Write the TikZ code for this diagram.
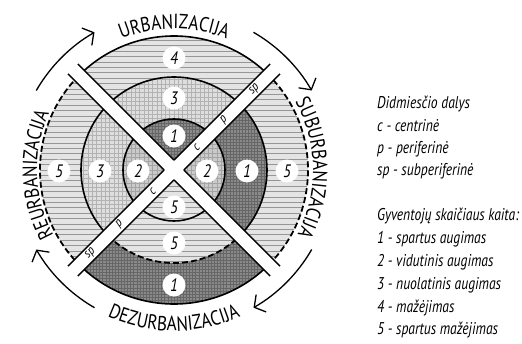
\documentclass[tikz,border=0pt]{standalone}
\usepackage{fontspec}
\setmainfont{PT Sans}
\newfontfamily\condsans[FakeStretch=0.84]{PT Sans}
\newfontfamily\legsans[FakeStretch=0.8]{PT Sans}
\usetikzlibrary{arrows.meta,decorations.text}

\definecolor{darkbg}{HTML}{8A8A8A}
\definecolor{darkln}{HTML}{666666}
\definecolor{lightbg}{HTML}{DEDEDE}
\definecolor{lightln}{HTML}{B2B2B2}
\definecolor{midbg}{HTML}{CACACA}
\definecolor{midln}{HTML}{A4A4A4}
\definecolor{hatchbg}{HTML}{E4E4E4}
\definecolor{hatchln}{HTML}{969696}

% clip to the part of a ring between two angles and two radii
\newcommand\ringclip[4]{\clip (#1:#3) arc[start angle=#1,end angle=#2,radius=#3] -- (#2:#4) arc[start angle=#2,end angle=#1,radius=#4] -- cycle;}

% ring sector filled with horizontal lines
\newcommand\hatchring[4]{%
  \begin{scope}
    \ringclip{#1}{#2}{#3}{#4}
    \fill[hatchbg] (-140,-140) rectangle (140,140);
    \foreach \k in {-26,...,26}
      \draw[hatchln,line width=0.75pt] (-140,\k*5.4) -- (140,\k*5.4);
  \end{scope}}

% ring sector filled with a square grid: angles, radii, fill, line colour, spacing
\newcommand\gridring[7]{%
  \begin{scope}
    \ringclip{#1}{#2}{#3}{#4}
    \fill[#5] (-140,-140) rectangle (140,140);
    \foreach \k in {-46,...,46} {
      \draw[#6,line width=0.45pt] (-140,\k*#7) -- (140,\k*#7);
      \draw[#6,line width=0.45pt] (\k*#7,-140) -- (\k*#7,140);
    }
  \end{scope}}

\newcommand\bigcaps{\condsans\fontsize{20.5}{20.5}\selectfont}
\newcommand\numfont{\condsans\itshape\fontsize{18}{18}\selectfont}
\newcommand\legfont{\legsans\itshape\fontsize{17}{17}\selectfont}
\newcommand\bandfont{\condsans\itshape\fontsize{13}{13}\selectfont}

\begin{document}
\begin{tikzpicture}[x=1pt,y=1pt,
  numlabel/.style={circle,fill=white,inner sep=0pt,minimum size=23pt,font=\numfont},
  bandlabel/.style={inner sep=0pt,font=\bandfont,rotate=45},
  legline/.style={anchor=base west,inner sep=0pt,font=\legfont},
  ringline/.style={line width=1.6pt},
  ringdash/.style={line width=1.8pt,dash pattern=on 6pt off 3pt},
  bandedge/.style={line width=1.5pt},
  cyclearrow/.style={line width=1.3pt,-{Straight Barb[length=8pt,width=20pt,line width=1.3pt]}},
  curvedtext/.style={decorate,decoration={text along path,text align=center,text={|\bigcaps|#1}}}]

\useasboundingbox (-174,-173) rectangle (348,170);

\def\rIn{51}
\def\rMid{93}
\def\rOut{134}

% top sector: urbanization
\gridring{45}{135}{1}{\rIn}{darkbg}{darkln}{3.1}
\gridring{45}{135}{\rIn}{\rMid}{lightbg}{lightln}{4.3}
\hatchring{45}{135}{\rMid}{\rOut}
% right sector: suburbanization
\gridring{-45}{45}{1}{\rIn}{midbg}{midln}{4.3}
\gridring{-45}{45}{\rIn}{\rMid}{darkbg}{darkln}{3.1}
\hatchring{-45}{45}{\rMid}{\rOut}
% bottom sector: desurbanization
\hatchring{225}{315}{1}{\rIn}
\hatchring{225}{315}{\rIn}{\rMid}
\gridring{225}{315}{\rMid}{\rOut}{darkbg}{darkln}{3.1}
% left sector: reurbanization
\gridring{135}{225}{1}{\rIn}{midbg}{midln}{4.3}
\gridring{135}{225}{\rIn}{\rMid}{lightbg}{lightln}{4.3}
\hatchring{135}{225}{\rMid}{\rOut}

% ring borders
\draw[ringline] (0,0) circle[radius=\rIn];
\draw[ringline] (225:\rMid) arc[start angle=225,end angle=-45,radius=\rMid];
\draw[ringdash] (225:\rMid) arc[start angle=225,end angle=315,radius=\rMid];
\draw[ringline] (45:\rOut) arc[start angle=45,end angle=135,radius=\rOut];
\draw[ringline] (225:\rOut) arc[start angle=225,end angle=315,radius=\rOut];
\draw[ringdash] (-45:\rOut) arc[start angle=-45,end angle=45,radius=\rOut];
\draw[ringdash] (135:\rOut) arc[start angle=135,end angle=225,radius=\rOut];

% the two crossing white bands
\begin{scope}[rotate=45]
  \fill[white] (-143,-7) rectangle (143,7);
  \fill[white] (-7,-143) rectangle (7,143);
  \draw[bandedge] (7,7) -- (143,7)  (7,-7) -- (143,-7);
  \draw[bandedge] (-7,7) -- (-143,7)  (-7,-7) -- (-143,-7);
  \draw[bandedge] (7,7) -- (7,143)  (-7,7) -- (-7,143);
  \draw[bandedge] (7,-7) -- (7,-143)  (-7,-7) -- (-7,-143);
\end{scope}

% parts of the city along the band
\node[bandlabel] (cNE) at (45:32) {c};
\node[bandlabel] (pNE) at (45:71) {p};
\node[bandlabel] (spNE) at (45:114) {sp};
\node[bandlabel] (cSW) at (225:30) {c};
\node[bandlabel] (pSW) at (225:77) {p};
\node[bandlabel] (spSW) at (225:118) {sp};

% population change codes
\node[numlabel] (t4) at (0,112) {4};
\node[numlabel] (t3) at (0,72) {3};
\node[numlabel] (t1) at (0,34) {1};
\node[numlabel] (l5) at (-115,-1) {5};
\node[numlabel] (l3) at (-74,-1) {3};
\node[numlabel] (l2) at (-36,-1) {2};
\node[numlabel] (r2) at (33,-1) {2};
\node[numlabel] (r1) at (73,-1) {1};
\node[numlabel] (r5) at (113,-1) {5};
\node[numlabel] (b5a) at (0,-37) {5};
\node[numlabel] (b5b) at (0,-73) {5};
\node[numlabel] (b1) at (0,-115) {1};

% stage names along the circle
\path[curvedtext=URBANIZACIJA] (135:141) arc[start angle=135,end angle=45,radius=141];
\path[curvedtext=SUBURBANIZACIJA] (41:139) arc[start angle=41,end angle=-39,radius=139];
\path[curvedtext=DEZURBANIZACIJA] (230:161) arc[start angle=230,end angle=310,radius=161];
\path[curvedtext=REURBANIZACIJA] (222:137) arc[start angle=222,end angle=142,radius=137];

% cycle arrows
\coordinate (arrA) at (150:159);
\coordinate (arrB) at (60:159);
\coordinate (arrC) at (-30:159);
\coordinate (arrD) at (-120:159);
\draw[cyclearrow] (arrA) arc[start angle=150,end angle=120,radius=159];
\draw[cyclearrow] (arrB) arc[start angle=60,end angle=30,radius=159];
\draw[cyclearrow] (arrC) arc[start angle=-30,end angle=-60,radius=159];
\draw[cyclearrow] (arrD) arc[start angle=-120,end angle=-150,radius=159];

% legend
\node[legline] (lg1) at (203,62) {Didmiesčio dalys};
\node[legline] (lg2) at (203,39) {c - centrinė};
\node[legline] (lg3) at (203,17) {p - periferinė};
\node[legline] (lg4) at (203,-5) {sp - subperiferinė};
\node[legline] (lg5) at (203,-50) {Gyventojų skaičiaus kaita:};
\node[legline] (lg6) at (203,-73) {1 - spartus augimas};
\node[legline] (lg7) at (203,-96) {2 - vidutinis augimas};
\node[legline] (lg8) at (203,-119) {3 - nuolatinis augimas};
\node[legline] (lg9) at (203,-142) {4 - mažėjimas};
\node[legline] (lg10) at (203,-164) {5 - spartus mažėjimas};
\end{tikzpicture}
\end{document}
